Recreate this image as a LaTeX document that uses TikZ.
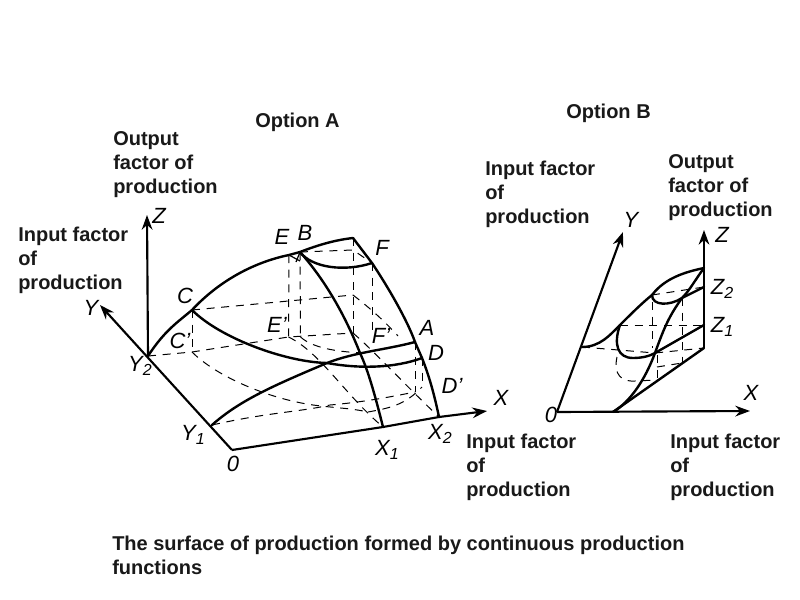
\documentclass[tikz,border=0pt]{standalone}
\usepackage{fontspec}
\setmainfont{Liberation Sans}
\usetikzlibrary{arrows.meta}
\newcommand{\lsub}[1]{\raisebox{-0.35ex}{\fontsize{12}{12}\selectfont #1}}
\tikzset{
  x=0.75pt,y=-0.75pt,
  caption/.style={font=\fontsize{15}{18}\selectfont\bfseries,align=left,anchor=north west,inner sep=0pt,text=black!90},
  letter/.style={font=\fontsize{16.5}{18}\selectfont\itshape,inner sep=0pt},
  thick curve/.style={line width=1.8pt,line join=round,line cap=round},
  axis/.style={line width=1.6pt,-{Stealth[length=11pt,width=8pt]}},
  dashline/.style={line width=0.75pt,dash pattern=on 6pt off 5pt},
}
\begin{document}
\begin{tikzpicture}
\useasboundingbox (0,0) rectangle (800,600);
\fill[white] (0,0) rectangle (800,600);
% ---- Option A coordinates
\coordinate (O) at (232,450);
\coordinate (Y1) at (212,425);
\coordinate (Y2) at (148,356);
\coordinate (Ytip) at (100,305);
\coordinate (Ztip) at (147,215);
\coordinate (Xtip) at (487,411);
\coordinate (C) at (192,310);
\coordinate (Cp) at (192,352);
\coordinate (E) at (289,255);
\coordinate (B) at (300,252);
\coordinate (T) at (353,238);
\coordinate (F) at (372,263);
\coordinate (A) at (415,342);
\coordinate (D) at (422,358);
\coordinate (X1) at (383,427);
\coordinate (X2) at (439,417);
\coordinate (Ep) at (288.5,337);
\coordinate (Bp) at (300.5,337);
\coordinate (Tm) at (353,295);
\coordinate (Fp) at (353,333);
\coordinate (Am) at (415,392);
\coordinate (Dm) at (422,387);
% axes
\draw[axis] (O) -- (Ytip);
\draw[axis] (Y2) -- (Ztip);
\draw[axis] (O) -- (X1) -- (X2) -- (Xtip);
% solid curves
\draw[thick curve] (Y2) .. controls (165,330) and (178,322) .. (C) .. controls (220,280) and (255,262) .. (E) -- (B) .. controls (318,245) and (335,240) .. (T);
\draw[thick curve] (T) -- (F) .. controls (390,290) and (408,322) .. (A) -- (D) .. controls (430,378) and (435,398) .. (X2);
\draw[thick curve] (X1) .. controls (375,395) and (368,370) .. (360,353) .. controls (345,315) and (325,280) .. (B);
\draw[thick curve] (Y1) .. controls (240,400) and (275,385) .. (327,363) .. controls (355,352) and (385,350) .. (A);
\draw[thick curve] (C) .. controls (220,338) and (285,362) .. (327,363) .. controls (360,369) and (395,368) .. (D);
\draw[thick curve] (B) .. controls (312,268) and (345,272) .. (F);
\draw[line width=0.9pt] (E) -- (300,261) (B) -- (296,262);
% dashed lines
\draw[dashline] (C) -- (Tm);
\draw[dashline] (C) -- (Cp);
\draw[dashline] (Y2) -- (Cp) -- (Ep) -- (Fp);
\draw[dashline] (E) -- (Ep);
\draw[dashline] (B) -- (Bp);
\draw[dashline] (T) -- (Fp);
\draw[dashline] (F) -- (372,335);
\draw[dashline] (B) -- (353,250) -- (F);
\draw[dashline] (A) -- (Am);
\draw[dashline] (D) -- (Dm);
\draw[dashline] (Ep) .. controls (320,352) and (345,395) .. (X1);
\draw[dashline] (Fp) .. controls (375,352) and (405,385) .. (X2);
\draw[dashline] (Tm) .. controls (375,312) and (388,325) .. (398,336);
\draw[dashline] (Bp) .. controls (315,350) and (345,352) .. (363,353);
\draw[dashline] (Cp) .. controls (215,375) and (265,398) .. (313,405) .. controls (335,408) and (350,408) .. (368,412);
\draw[dashline] (Y1) .. controls (270,412) and (300,412) .. (330,405) .. controls (365,402) and (395,396) .. (Am);
\draw[dashline] (368,412) .. controls (390,408) and (405,405) .. (Dm);
% ---- Option B coordinates
\coordinate (O2) at (557,412);
\coordinate (X0) at (613,412);
\coordinate (Xt2) at (750,411);
\coordinate (Yt2) at (623,232);
\coordinate (Zt2) at (704,230);
\coordinate (Zb) at (704,348);
\coordinate (Zt) at (704,268);
\coordinate (Z2) at (704,287);
\coordinate (Z1) at (704,325);
\coordinate (Yp) at (582,347);
\coordinate (P1) at (620,325);
\coordinate (P2) at (652,295);
\coordinate (Q1) at (655,353);
\coordinate (Q2) at (682,298);
\draw[axis] (O2) -- (Yt2);
\draw[axis] (O2) -- (Xt2);
\draw[axis] (Zb) -- (Zt2);
\draw[thick curve] (X0) -- (Zb);
\draw[thick curve] (Yp) .. controls (600,347) and (610,335) .. (P1) .. controls (630,315) and (642,303) .. (P2) .. controls (665,278) and (685,272) .. (Zt);
\draw[thick curve] (X0) .. controls (630,402) and (645,380) .. (Q1) .. controls (665,325) and (670,315) .. (Q2) .. controls (690,290) and (695,280) .. (Zt);
\draw[thick curve] (P2) .. controls (652,306) and (670,306) .. (Q2) -- (Z2);
\draw[thick curve] (P1) .. controls (613,345) and (618,358) .. (633,358) .. controls (642,358) and (650,356) .. (Q1) -- (Z1);
\draw[dashline] (Yp) -- (Q1) -- (Zb);
\draw[dashline] (P1) -- (Z1);
\draw[dashline] (P2) -- (Z2);
\draw[dashline] (652.5,302) -- (652.5,348);
\draw[dashline] (Q2) -- (682,363);
\draw[dashline] (657,355) -- (657,378);
\draw[dashline] (657,367) -- (682,363);
\draw[dashline] (617,357) .. controls (613,375) and (622,382) .. (635,381) -- (657,380);
% letters
\node[letter] (lZ) at (159,216) {Z};
\node[letter] (lY) at (91,308) {Y};
\node[letter] (lC) at (185,296) {C};
\node[letter] (lCp) at (180,341) {C'};
\node[letter] (lY2) at (140,366) {Y\lsub{2}};
\node[letter] (lY1) at (193,435) {Y\lsub{1}};
\node[letter] (lO) at (233,464) {0};
\node[letter] (lE) at (282,237) {E};
\node[letter] (lB) at (305,233) {B};
\node[letter] (lF) at (382,248) {F};
\node[letter] (lEp) at (277,325) {E'};
\node[letter] (lFp) at (381,336) {F'};
\node[letter] (lA) at (427,328) {A};
\node[letter] (lD) at (436,353) {D};
\node[letter] (lDp) at (452,386) {D'};
\node[letter] (lX) at (501,398) {X};
\node[letter] (lX1) at (387,450) {X\lsub{1}};
\node[letter] (lX2) at (440,434) {X\lsub{2}};
\node[letter] (lY3) at (631,220) {Y};
\node[letter] (lZ3) at (722,235) {Z};
\node[letter] (lZ2) at (722,289) {Z\lsub{2}};
\node[letter] (lZ1) at (722,327) {Z\lsub{1}};
\node[letter] (lX3) at (751,393) {X};
\node[letter] (lO2) at (551,415) {0};
% captions
\node[caption] (t1) at (255,112.5) {Option A};
\node[caption] (t2) at (566,103.5) {Option B};
\node[caption] (t3) at (113,131.5) {Output\\factor of\\production};
\node[caption] (t4) at (18,226.5) {Input factor\\of\\production};
\node[caption] (t5) at (485,160.5) {Input factor\\of\\production};
\node[caption] (t6) at (668,154.5) {Output\\factor of\\production};
\node[caption] (t7) at (466,433.5) {Input factor\\of\\production};
\node[caption] (t8) at (670,433.5) {Input factor\\of\\production};
\node[caption] (t9) at (112,535.5) {The surface of production formed by continuous production\\functions};
\end{tikzpicture}
\end{document}
